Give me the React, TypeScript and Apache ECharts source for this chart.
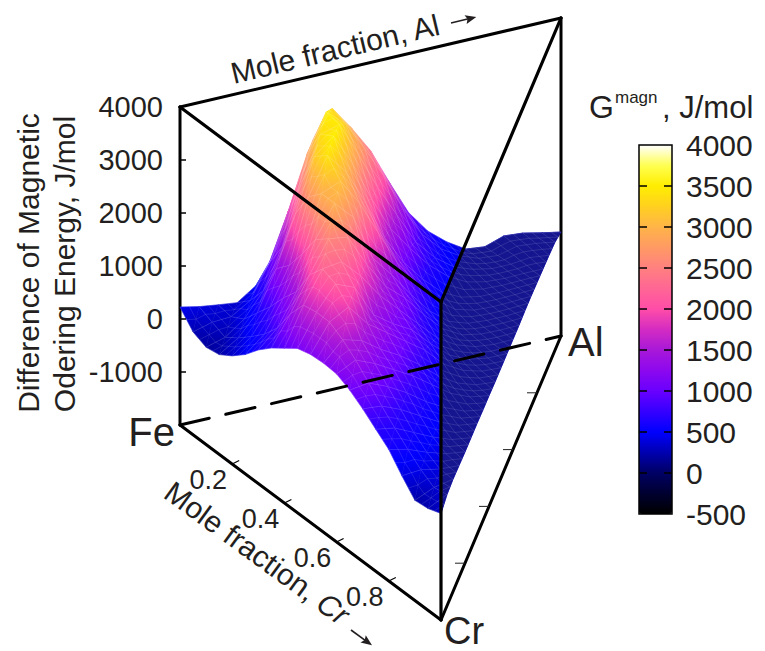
import React, { useEffect, useRef } from "react";
import * as echarts from "echarts";

// Magnetic ordering energy (J/mol).
// surfaceZ[i][j]: Cr fraction = i/20, Al fraction = j/20.
const surfaceZ: number[][] = [
  [226, 150, 100, 57, 300, 850, 1650, 2800, 3300, 2850, 2340, 1650, 1000, 570, 280, 60, 20, 140, 110, 30, -38],
  [-60, 40, 60, 280, 900, 1800, 2800, 3500, 3200, 2650, 2050, 1350, 780, 420, 200, 70, 40, 130, 100, 40],
  [-165, -60, 200, 650, 1400, 2500, 3350, 3450, 2800, 2100, 1500, 900, 520, 260, 130, 60, 60, 100, 60],
  [-120, 110, 500, 1250, 2200, 3200, 3500, 2900, 2150, 1500, 1050, 650, 350, 160, 80, 60, 70, 70],
  [40, 320, 800, 1500, 2700, 3400, 3000, 2350, 1600, 1050, 650, 320, 140, 70, 60, 70, 80],
  [250, 550, 1150, 1900, 2950, 3100, 2600, 1950, 1300, 850, 450, 180, 80, 60, 70, 90],
  [520, 850, 1450, 2350, 2950, 2600, 1750, 1350, 900, 500, 220, 100, 70, 70, 90],
  [740, 1300, 1950, 2550, 2500, 1900, 1400, 1100, 700, 350, 150, 80, 70, 80],
  [920, 1650, 2250, 2300, 1950, 1500, 1150, 800, 450, 230, 110, 70, 80],
  [1100, 1700, 2150, 2000, 1400, 1150, 950, 600, 300, 140, 80, 80],
  [1170, 1700, 1900, 1500, 1250, 1000, 750, 400, 200, 100, 80],
  [1190, 1550, 1450, 1200, 1000, 750, 450, 230, 110, 80],
  [1170, 1350, 1200, 1000, 800, 550, 300, 150, 90],
  [1050, 1100, 950, 750, 500, 300, 150, 90],
  [880, 850, 700, 500, 300, 150, 100],
  [680, 620, 450, 280, 150, 100],
  [480, 400, 260, 150, 100],
  [170, 200, 130, 110],
  [-110, 50, 120],
  [-80, 100],
  [10],
];

const zTickValues = [-1000, 0, 1000, 2000, 3000];
const zLabelValues = [-1000, 0, 1000, 2000, 3000, 4000];
const colorbarTicks = [0, 500, 1000, 1500, 2000, 2500, 3000, 3500];
const crTickFractions = [0.2, 0.4, 0.6, 0.8];
const alTickFractions = [0.2, 0.4, 0.6, 0.8];

// Colour scale, one colour every 250 J/mol from -500 to 4000.
const paletteColors = [
  "#000000", "#000030", "#000064", "#0000b0", "#0000ff", "#3500ff", "#6a00ff",
  "#8c08ee", "#a818d8", "#d42cc2", "#ff4da8", "#ff6694", "#ff8080", "#ff9a64",
  "#ffb448", "#ffd020", "#ffee00", "#ffff50", "#ffffff",
];
const darkZoneColor = "#15158f";
const textColor = "#231f20";
const fontFamily = "'Liberation Sans', Arial, sans-serif";

// Prism frame: [crFrom, alFrom, zFrom, crTo, alTo, zTo]
const frontEdges = [
  [0, 0, 4000, 1, 0, 4000],
  [1, 0, 4000, 0, 1, 4000],
  [1, 0, -2000, 1, 0, 4000],
];
const backEdges = [
  [0, 0, -2000, 0, 0, 4000],
  [0, 0, 4000, 0, 1, 4000],
  [0, 1, -2000, 0, 1, 4000],
  [0, 0, -2000, 1, 0, -2000],
  [1, 0, -2000, 0, 1, -2000],
];
const dashedEdges = [[0, 0, -2000, 0, 1, -2000]];

// oblique projection of (Cr, Al, z) on the axes of the main grid
const project = (cr: number, al: number, z: number) => [
  (261 * cr + 381 * al) / 381,
  z - (195 * cr - 89 * al) / 0.053,
];

const hexToRgb = (h: string) => [
  parseInt(h.slice(1, 3), 16),
  parseInt(h.slice(3, 5), 16),
  parseInt(h.slice(5, 7), 16),
];
const valueColor = (v: number) => {
  const t = Math.max(0, Math.min(paletteColors.length - 1.001, (v + 500) / 250));
  const k = Math.floor(t);
  const a = hexToRgb(paletteColors[k]);
  const b = hexToRgb(paletteColors[k + 1]);
  const f = t - k;
  return `rgb(${a.map((c, n) => Math.round(c + (b[n] - c) * f)).join(",")})`;
};

// The low part of the surface is shaded a little brighter than its height, as in the picture.
const shade = (z: number) => {
  if (z >= 700) return z;
  if (z >= 300) return z + (200 * (700 - z)) / 400;
  return z + 200 + (100 * (300 - z)) / 300;
};

// Triangles of the surface, far ones first.
const buildTriangles = () => {
  const out: number[][] = [];
  const add = (p: number[][]) => {
    const vals = p.map(([i, j]) => surfaceZ[i][j]);
    const mean = (shade(vals[0]) + shade(vals[1]) + shade(vals[2])) / 3;
    const flat: number[] = [];
    p.forEach(([i, j], n) => flat.push(i / 20, j / 20, vals[n]));
    const depth = p.reduce((s, [i, j]) => s + 195 * i - 89 * j, 0);
    out.push([...flat, mean, depth]);
  };
  for (let i = 0; i < 20; i++) {
    for (let j = 0; j + i < 20; j++) {
      add([[i, j], [i + 1, j], [i, j + 1]]);
      if (i + j + 2 <= 20) add([[i + 1, j], [i + 1, j + 1], [i, j + 1]]);
    }
  }
  return out.sort((a, b) => a[10] - b[10]);
};

// Height on the doubled grid, only used for the fine wire lines.
const zHalf = (a: number, b: number) => {
  const odd = (n: number) => n % 2 === 1;
  if (!odd(a) && !odd(b)) return surfaceZ[a / 2][b / 2];
  if (odd(a) && !odd(b)) return (surfaceZ[(a - 1) / 2][b / 2] + surfaceZ[(a + 1) / 2][b / 2]) / 2;
  if (!odd(a) && odd(b)) return (surfaceZ[a / 2][(b - 1) / 2] + surfaceZ[a / 2][(b + 1) / 2]) / 2;
  return (surfaceZ[(a - 1) / 2][(b + 1) / 2] + surfaceZ[(a + 1) / 2][(b - 1) / 2]) / 2;
};

const renderTriangle = (_: any, api: any) => {
  const pts: number[][] = [];
  const vals: number[] = [];
  for (let k = 0; k < 3; k++) {
    const z = api.value(k * 3 + 2);
    pts.push(api.coord(project(api.value(k * 3), api.value(k * 3 + 1), z)));
    vals.push(shade(z));
  }
  const ax = pts[1][0] - pts[0][0], ay = pts[1][1] - pts[0][1];
  const bx = pts[2][0] - pts[0][0], by = pts[2][1] - pts[0][1];
  const det = ax * by - ay * bx;
  const d1 = vals[1] - vals[0], d2 = vals[2] - vals[0];
  let fill: any = api.visual("color");
  if (Math.abs(det) > 1e-6) {
    const gx = (d1 * by - d2 * ay) / det;
    const gy = (-d1 * bx + d2 * ax) / det;
    const g2 = gx * gx + gy * gy;
    const lo = Math.min(...vals), hi = Math.max(...vals);
    if (g2 > 1e-6 && hi - lo > 10) {
      const m = pts[vals.indexOf(lo)];
      const stops = [0, 0.2, 0.4, 0.6, 0.8, 1].map((o) => ({ offset: o, color: valueColor(lo + (hi - lo) * o) }));
      fill = new echarts.graphic.LinearGradient(
        m[0], m[1], m[0] + (gx * (hi - lo)) / g2, m[1] + (gy * (hi - lo)) / g2, stops, true
      );
    }
  }
  return {
    type: "polygon",
    shape: { points: pts },
    style: { fill, stroke: fill, lineWidth: 0.6 },
  };
};

const clipHalf = (poly: number[][], f: (p: number[]) => number) => {
  const out: number[][] = [];
  for (let k = 0; k < poly.length; k++) {
    const p = poly[k], q = poly[(k + 1) % poly.length];
    const fp = f(p), fq = f(q);
    if (fp >= 0) out.push(p);
    if (fp >= 0 !== fq >= 0) {
      const t = fp / (fp - fq);
      out.push([p[0] + (q[0] - p[0]) * t, p[1] + (q[1] - p[1]) * t]);
    }
  }
  return out;
};

// The part of the surface that lies beyond the Cr–Al face of the prism.
const renderDarkZone = (_: any, api: any) => {
  let pts: number[][] = [];
  for (let k = 0; k < 3; k++) {
    pts.push(api.coord(project(api.value(k * 3), api.value(k * 3 + 1), api.value(k * 3 + 2))));
  }
  const crTop = api.coord(project(1, 0, 4000));
  const alTop = api.coord(project(0, 1, 4000));
  pts = clipHalf(pts, (p) => p[0] - crTop[0]);
  if (pts.length) {
    const dx = alTop[0] - crTop[0], dy = alTop[1] - crTop[1];
    pts = clipHalf(pts, (p) => dx * (p[1] - crTop[1]) - dy * (p[0] - crTop[0]));
  }
  if (pts.length < 3) return null;
  return { type: "polygon", shape: { points: pts }, style: { fill: darkZoneColor, stroke: darkZoneColor, lineWidth: 0.6 } };
};

const renderWire = (_: any, api: any) => {
  const dir = api.value(0), n = api.value(1);
  const pts: number[][] = [];
  for (let m = 0; m + n <= 40; m++) {
    const a = dir === 0 ? n : m;
    const b = dir === 0 ? m : n;
    pts.push(api.coord(project(a / 40, b / 40, zHalf(a, b))));
  }
  if (pts.length < 2) return null;
  return {
    type: "polyline",
    shape: { points: pts },
    style: { fill: "none", stroke: "rgba(255,255,255,0.2)", lineWidth: 0.6 },
  };
};

const edgeRenderer = (width: number, dash?: number[]) => (_: any, api: any) => {
  const p = api.coord(project(api.value(0), api.value(1), api.value(2)));
  const q = api.coord(project(api.value(3), api.value(4), api.value(5)));
  return {
    type: "line",
    shape: { x1: p[0], y1: p[1], x2: q[0], y2: q[1] },
    style: { stroke: "#000", lineWidth: width, lineDash: dash, lineCap: "round", fill: "none" },
  };
};

const renderZTick = (_: any, api: any) => {
  const p = api.coord(project(0, 0, api.value(1)));
  return {
    type: "line",
    shape: { x1: p[0], y1: p[1], x2: p[0] + 6, y2: p[1] },
    style: { stroke: "#000", lineWidth: 1.5 },
  };
};

const renderColorbarTick = (_: any, api: any) => {
  const a = api.coord([0, api.value(1)]);
  const b = api.coord([1, api.value(1)]);
  return {
    type: "group",
    children: [
      { type: "line", shape: { x1: a[0], y1: a[1], x2: a[0] + 8, y2: a[1] }, style: { stroke: "#000", lineWidth: 1.5 } },
      { type: "line", shape: { x1: b[0] - 8, y1: b[1], x2: b[0], y2: b[1] }, style: { stroke: "#000", lineWidth: 1.5 } },
    ],
  };
};

const renderCrTick = (_: any, api: any) => {
  const t = api.value(0);
  const p = api.coord(project(t, 0, -2000));
  return {
    type: "group",
    children: [
      {
        type: "line",
        shape: { x1: p[0], y1: p[1], x2: p[0] + 7, y2: p[1] - 3.5 },
        style: { stroke: "#000", lineWidth: 1.2 },
      },
      {
        type: "text",
        x: p[0] - 24,
        y: p[1] + 16,
        style: {
          text: t.toFixed(1),
          fill: textColor,
          fontFamily,
          fontSize: 27,
          align: "center",
          verticalAlign: "middle",
        },
      },
    ],
  };
};

const renderAlTick = (_: any, api: any) => {
  const s = api.value(0);
  const p = api.coord(project(1 - s, s, -2000));
  return {
    type: "line",
    shape: { x1: p[0] - 10, y1: p[1], x2: p[0], y2: p[1] },
    style: { stroke: "#222", lineWidth: 1 },
  };
};

const label = (text: string, x: number, y: number, fontSize: number, align = "left", rotation = 0, extra: any = {}) => ({
  type: "text",
  x,
  y,
  rotation,
  z: 50,
  style: {
    text,
    fill: textColor,
    fontFamily,
    fontSize,
    align,
    verticalAlign: "middle",
    textAlign: align,
    textVerticalAlign: "middle",
    ...extra,
  },
});

// Small arrow that follows an axis title, drawn from its tail.
const axisArrow = (x: number, y: number, rotation: number) => ({
  type: "group",
  x,
  y,
  rotation,
  z: 50,
  children: [
    { type: "line", z: 50, shape: { x1: 0, y1: 0, x2: 18, y2: 0 }, style: { stroke: textColor, lineWidth: 1.6 } },
    {
      type: "polygon",
      z: 50,
      shape: { points: [[26, 0], [15, -4.5], [17, 0], [15, 4.5]] },
      style: { fill: textColor },
    },
  ],
});

export default function App() {
  const ref = useRef<HTMLDivElement>(null);
  useEffect(() => {
    const chart = echarts.init(ref.current!, undefined, { renderer: "svg" });
    const triangles = buildTriangles();
    const wires: number[][] = [];
    for (let n = 0; n < 40; n++) {
      wires.push([0, n], [1, n]);
    }
    const surfaceSeries = (name: string, renderItem: any, data: any[], z: number) => ({
      type: "custom",
      name,
      xAxisIndex: 0,
      yAxisIndex: 0,
      coordinateSystem: "cartesian2d",
      renderItem,
      data,
      z,
      silent: true,
      clip: false,
    });
    chart.setOption({
      animation: false,
      backgroundColor: "#fff",
      grid: [
        { left: 180, top: 1, width: 381, height: 636, show: false },
        {
          left: 639,
          top: 145,
          width: 33,
          height: 369,
          show: true,
          z: 10,
          backgroundColor: "transparent",
          borderColor: "#000",
          borderWidth: 1.5,
        },
      ],
      xAxis: [
        { type: "value", gridIndex: 0, min: 0, max: 1, show: false },
        { type: "value", gridIndex: 1, min: 0, max: 1, show: false },
      ],
      yAxis: [
        {
          type: "value",
          gridIndex: 0,
          min: -6000,
          max: 6000,
          interval: 1000,
          position: "left",
          axisLine: { show: false },
          splitLine: { show: false },
          axisTick: { show: false },
          axisLabel: {
            show: true,
            customValues: zLabelValues,
            formatter: (v: number) => String(v),
            margin: 17,
            fontSize: 29,
            color: textColor,
            fontFamily,
          },
        },
        {
          type: "value",
          gridIndex: 1,
          min: -500,
          max: 4000,
          interval: 500,
          position: "right",
          z: 10,
          axisLine: { show: false },
          splitLine: { show: false },
          axisTick: { show: false },
          axisLabel: {
            show: true,
            formatter: (v: number) => String(v),
            margin: 14,
            fontSize: 30,
            color: textColor,
            fontFamily,
          },
        },
      ],
      visualMap: {
        type: "continuous",
        seriesIndex: 0,
        dimension: 9,
        min: -500,
        max: 4000,
        left: 639,
        top: 145,
        padding: 0,
        itemWidth: 33,
        itemHeight: 369,
        calculable: false,
        hoverLink: false,
        inRange: { color: paletteColors },
      },
      series: [
        surfaceSeries("Surface", renderTriangle, triangles, 2),
        surfaceSeries("Beyond Cr-Al face", renderDarkZone, triangles, 3),
        surfaceSeries("Wire", renderWire, wires, 4),
        surfaceSeries("Back edges", edgeRenderer(3), backEdges, 1),
        surfaceSeries("Dashed edge", edgeRenderer(3, [30, 17]), dashedEdges, 5),
        surfaceSeries("Front edges", edgeRenderer(3.2), frontEdges, 6),
        surfaceSeries("z ticks", renderZTick, zTickValues.map((v) => [0, v]), 6),
        surfaceSeries("Cr ticks", renderCrTick, crTickFractions.map((t) => [t]), 6),
        surfaceSeries("Al ticks", renderAlTick, alTickFractions.map((t) => [t]), 6),
        {
          type: "custom",
          name: "Colorbar ticks",
          xAxisIndex: 1,
          yAxisIndex: 1,
          coordinateSystem: "cartesian2d",
          renderItem: renderColorbarTick,
          data: colorbarTicks.map((v) => [0, v]),
          z: 20,
          silent: true,
        },
      ],
      graphic: [
        label("Difference of Magnetic", 28, 263, 30, "center", Math.PI / 2),
        label("Odering Energy, J/mol", 64, 264, 30, "center", Math.PI / 2),
        label("Mole fraction, Al", 335, 49, 30, "center", 0.235),
        axisArrow(451, 23, 0.235),
        label("Mole fraction, {it|Cr}", 257, 553, 30, "center", -0.63, {
          rich: { it: { fontStyle: "italic", fontSize: 30, fontFamily, fill: textColor } },
        }),
        axisArrow(351, 630, -0.63),
        label("Fe", 175, 432, 40, "right"),
        label("Al", 568, 342, 40),
        label("Cr", 444, 631, 38),
        label("G", 589, 107, 32),
        label("magn", 615, 97, 17),
        label(", J/mol", 662, 107, 31),
      ],
    });
    return () => chart.dispose();
  }, []);
  return <div ref={ref} style={{ position: "absolute", left: 0, top: 0, width: 765, height: 651 }} />;
}
